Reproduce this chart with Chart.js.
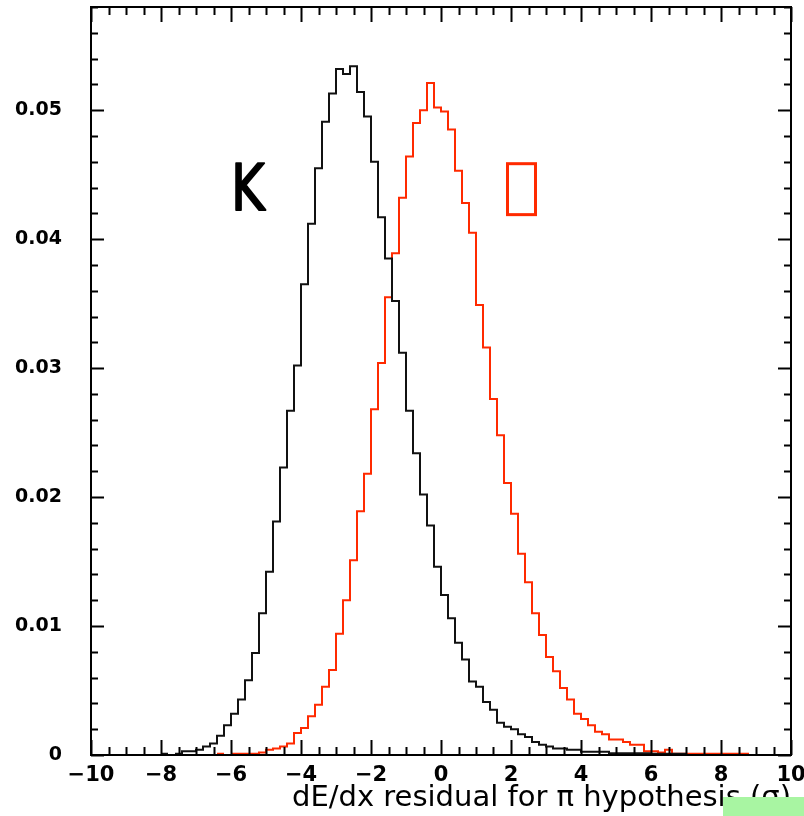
<!DOCTYPE html>
<html><head><meta charset="utf-8">
<script src="https://cdn.jsdelivr.net/npm/chart.js@4.4.1/dist/chart.umd.min.js"></script>
<style>html,body{margin:0;padding:0;background:#fff}#wrap{position:relative;width:804px;height:816px}</style>
</head><body><div id="wrap"><canvas id="c"></canvas></div>
<script>
// Bin edges of the histograms (width 0.2)
const binEdges = [-8.0,-7.8,-7.6,-7.4,-7.2,-7.0,-6.8,-6.6,-6.4,-6.2,-6.0,-5.8,-5.6,-5.4,-5.2,-5.0,-4.8,-4.6,-4.4,-4.2,
  -4.0,-3.8,-3.6,-3.4,-3.2,-3.0,-2.8,-2.6,-2.4,-2.2,-2.0,-1.8,-1.6,-1.4,-1.2,-1.0,-0.8,-0.6,-0.4,-0.2,
  0.0,0.2,0.4,0.6,0.8,1.0,1.2,1.4,1.6,1.8,2.0,2.2,2.4,2.6,2.8,3.0,3.2,3.4,3.6,3.8,
  4.0,4.2,4.4,4.6,4.8,5.0,5.2,5.4,5.6,5.8,6.0,6.2,6.4,6.6,6.8,7.0,7.2,7.4,7.6,7.8,8.0,8.2,8.4,8.6,8.8];

// Kaon (black) bin contents
const kaonValues = [0.0001,null,0.0001,0.0003,0.0003,0.0004,0.00065,0.0009,0.0015,0.0023,
  0.0032,0.0043,0.0058,0.0079,0.0110,0.0142,0.0181,0.0223,0.0267,0.0302,
  0.0365,0.0412,0.0455,0.0491,0.0513,0.0532,0.0528,0.0534,0.0514,0.0495,
  0.0460,0.0417,0.0385,0.0352,0.0312,0.0267,0.0234,0.0202,0.0178,0.0146,
  0.0124,0.0106,0.0087,0.0074,0.0057,0.0053,0.0041,0.0035,0.0025,0.0022,
  0.0020,0.0016,0.0014,0.0010,0.0008,0.00065,0.0005,0.0005,0.0004,0.0004,
  0.00026,0.00026,0.00026,0.00026,0.00013,0.00013,0.00013,0.00013,0.00013,0.00013,
  0.0001,0.0001,0.0001,0.0001,0.0001,null,null,null,null,null,null,null,null,null];

// Pion (red) bin contents
const pionValues = [null,null,null,null,null,null,null,null,0.0001,null,
  0.0001,0.0001,0.0001,0.0001,0.0002,0.0004,0.0005,0.00065,0.0009,0.0017,
  0.0021,0.0030,0.0039,0.0053,0.0066,0.0094,0.0120,0.0151,0.0189,0.0218,
  0.0268,0.0304,0.0355,0.0389,0.0432,0.0464,0.0490,0.0500,0.0521,0.0502,
  0.0499,0.0485,0.0453,0.0428,0.0405,0.0349,0.0316,0.0276,0.0248,0.0211,
  0.0187,0.0156,0.0134,0.0110,0.0093,0.0076,0.0065,0.0052,0.0043,0.0032,
  0.0028,0.0023,0.0018,0.0016,0.0012,0.0012,0.0010,0.0008,0.0008,0.0003,
  0.0003,0.0002,0.0004,0.0001,0.0001,0.0001,0.0001,0.0001,0.0001,0.0001,0.0001,0.0001,0.0001,0.0001];

const xTickValues = [-10,-8,-6,-4,-2,0,2,4,6,8,10];
const yTickValues = [0,0.01,0.02,0.03,0.04,0.05];
const xTitle = 'dE/dx residual for \u03C0 hypothesis (\u03C3)';
const kaonLabel = 'K';

function histPoints(edges, vals){
  const pts = [];
  for (let i = 0; i < vals.length; i++){
    const v = vals[i];
    if (v === null){ pts.push({x: edges[i], y: null}); continue; }
    pts.push({x: edges[i], y: v});
    if (i === vals.length - 1 || vals[i+1] === null) pts.push({x: edges[i+1], y: v});
  }
  return pts;
}

const RED = '#ff2a00';

const frameTicks = {
  id: 'frameTicks',
  afterDatasetsDraw(chart){
    const {ctx, chartArea: a, scales: {x, y}} = chart;
    ctx.save();
    ctx.strokeStyle = '#000';
    ctx.lineWidth = 2;
    ctx.beginPath();
    for (let v = x.min; v <= x.max + 1e-9; v += 0.5){
      const px = Math.round(x.getPixelForValue(v)) + 0.5;
      const major = Math.abs(v/2 - Math.round(v/2)) < 1e-6;
      const len = major ? 15 : 8;
      ctx.moveTo(px, a.bottom); ctx.lineTo(px, a.bottom - len);
      ctx.moveTo(px, a.top); ctx.lineTo(px, a.top + len);
    }
    for (let k = 0; k <= 29; k++){
      const v = k * 0.002;
      if (v > y.max + 1e-9) break;
      const py = Math.round(y.getPixelForValue(v)) + 0.5;
      const major = k % 5 === 0;
      const len = major ? 13 : 7;
      ctx.moveTo(a.left, py); ctx.lineTo(a.left + len, py);
      ctx.moveTo(a.right, py); ctx.lineTo(a.right - len, py);
    }
    ctx.stroke();
    ctx.strokeRect(a.left, a.top, a.right - a.left, a.bottom - a.top);
    // annotations
    ctx.save();
    ctx.translate(x.getPixelForValue(-6.0), y.getPixelForValue(0.04225));
    ctx.scale(0.8, 1);
    ctx.fillStyle = '#000';
    ctx.strokeStyle = '#000';
    ctx.lineWidth = 2;
    ctx.lineJoin = 'round';
    ctx.font = '64px "DejaVu Sans"';
    ctx.textAlign = 'left';
    ctx.textBaseline = 'alphabetic';
    ctx.fillText(kaonLabel, 0, 0);
    ctx.strokeText(kaonLabel, 0, 0);
    ctx.restore();
    ctx.strokeStyle = RED;
    ctx.lineWidth = 3;
    const bx1 = x.getPixelForValue(1.9), bx2 = x.getPixelForValue(2.7);
    const by1 = y.getPixelForValue(0.04585), by2 = y.getPixelForValue(0.0419);
    ctx.strokeRect(bx1, by1, bx2 - bx1, by2 - by1);
    ctx.restore();
  },
  afterDraw(chart){
    const ctx = chart.ctx;
    ctx.save();
    ctx.fillStyle = '#a8f5a2';
    ctx.fillRect(chart.width - 81, chart.height - 19, 81, 19);
    ctx.restore();
  }
};

new Chart(document.getElementById('c'), {
  type: 'line',
  data: {
    datasets: [
      {label: 'K', data: histPoints(binEdges, kaonValues), borderColor: '#111', borderWidth: 2,
       stepped: 'before', pointRadius: 0, fill: false, spanGaps: false},
      {label: '\u03C0', data: histPoints(binEdges, pionValues), borderColor: RED, borderWidth: 2,
       stepped: 'before', pointRadius: 0, fill: false, spanGaps: false}
    ]
  },
  options: {
    responsive: true, maintainAspectRatio: false, animation: false,
    layout: {padding: {top: 7, right: 13, left: 0, bottom: 0}},
    plugins: {legend: {display: false}, tooltip: {enabled: false}},
    scales: {
      x: {
        type: 'linear', min: -10, max: 10,
        grid: {display: false, drawTicks: false},
        border: {display: false},
        afterBuildTicks: s => { s.ticks = xTickValues.map(v => ({value: v})); },
        afterFit: s => { s.height = 61; s.paddingLeft = 0; s.paddingRight = 0; },
        ticks: {
          autoSkip: false, maxRotation: 0, padding: 8, color: '#000',
          font: {family: '"DejaVu Sans"', size: 21, weight: 'bold'},
          callback: v => v < 0 ? '\u2212' + Math.abs(v) : String(v)
        },
        title: {display: true, text: xTitle, align: 'end', color: '#000',
          font: {family: '"DejaVu Sans"', size: 29}, padding: {top: 0, bottom: 0}}
      },
      y: {
        type: 'linear', min: 0, max: 0.058,
        grid: {display: false, drawTicks: false},
        border: {display: false},
        afterBuildTicks: s => { s.ticks = yTickValues.map(v => ({value: v})); },
        afterFit: s => { s.width = 91; s.paddingTop = 0; s.paddingBottom = 0; },
        ticks: {
          autoSkip: false, padding: 29, color: '#000',
          font: {family: '"DejaVu Sans"', size: 19, weight: 'bold'},
          callback: v => String(v)
        }
      }
    }
  },
  plugins: [frameTicks]
});
</script>
</body></html>
